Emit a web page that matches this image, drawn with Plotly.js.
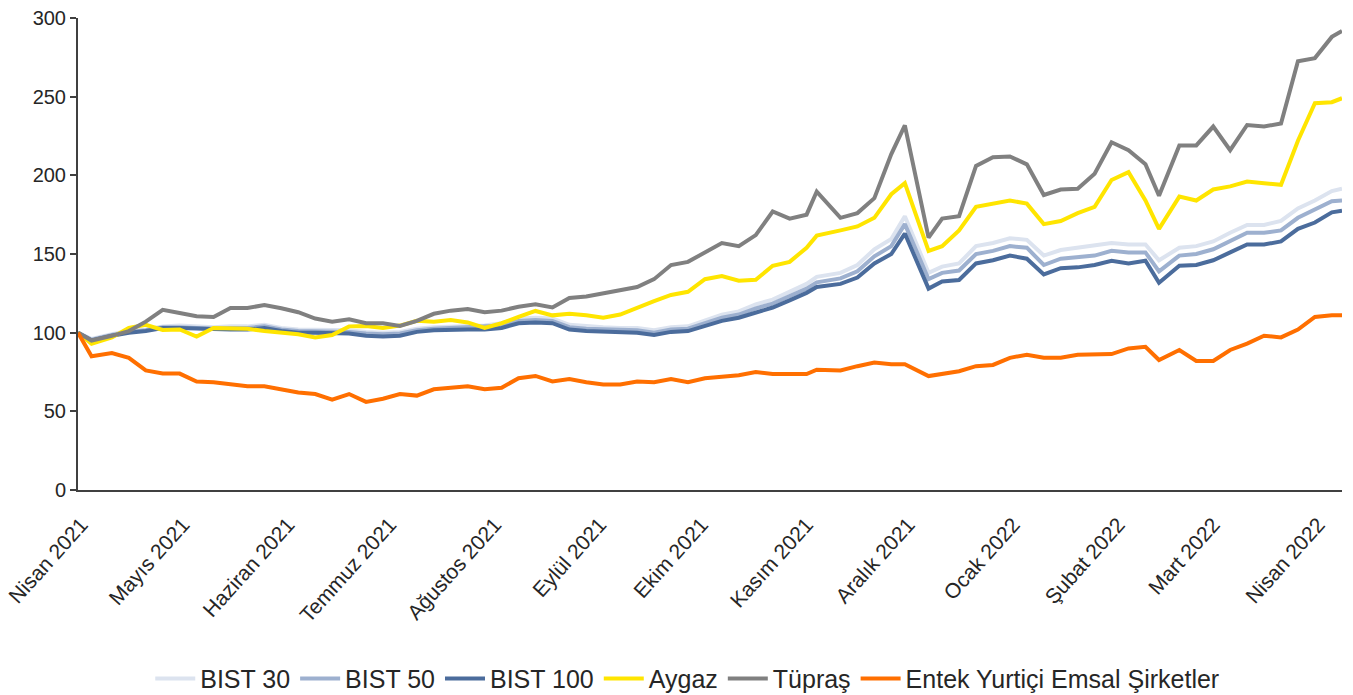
<!DOCTYPE html>
<html>
<head>
<meta charset="utf-8">
<script src="https://cdn.plot.ly/plotly-3.0.1.min.js"></script>
<style>
  html, body { margin: 0; padding: 0; background: #fff; }
  #plot { width: 1353px; height: 695px; }
</style>
</head>
<body>
<div id="plot"></div>
<script>
// dates (roughly every 5 days), values indexed to 100
const dates = [
  "2021-03-31","2021-04-04","2021-04-10","2021-04-15","2021-04-20","2021-04-25","2021-04-30","2021-05-05","2021-05-10","2021-05-15",
  "2021-05-20","2021-05-25","2021-05-30","2021-06-04","2021-06-09","2021-06-14","2021-06-19","2021-06-24","2021-06-29","2021-07-04",
  "2021-07-09","2021-07-14","2021-07-19","2021-07-24","2021-07-29","2021-08-03","2021-08-08","2021-08-13","2021-08-18","2021-08-23",
  "2021-08-28","2021-09-02","2021-09-07","2021-09-12","2021-09-17","2021-09-22","2021-09-27","2021-10-02","2021-10-07","2021-10-12",
  "2021-10-17","2021-10-22","2021-10-27","2021-11-01","2021-11-04","2021-11-11","2021-11-16","2021-11-21","2021-11-26","2021-11-30",
  "2021-12-07","2021-12-11","2021-12-16","2021-12-21","2021-12-26","2021-12-31","2022-01-05","2022-01-10","2022-01-15","2022-01-20",
  "2022-01-25","2022-01-30","2022-02-04","2022-02-09","2022-02-13","2022-02-19","2022-02-24","2022-03-01","2022-03-06","2022-03-11",
  "2022-03-16","2022-03-21","2022-03-26","2022-03-31","2022-04-05","2022-04-08"
];

const bist30 = [
  100,96,99,101,102,104,104.5,104,103.5,104,
  104,105,103,102,102,102,101.5,100.5,100,100.5,
  102.5,103.5,104,104,104.5,106,109,109.5,109,105,
  104,103.5,103,103,101.5,103.5,104,108,111.5,113.5,
  118,121,126,131,135.5,138,143,153,159.5,174,
  138,142,144,155,157,160,159,149,152.5,154,
  155,157,156,156,146,154,155,158,163.5,168.5,
  168.5,171,179,184,190,191.5
];

const bist50 = [
  100,95.5,98.5,100.5,101.5,103.5,103.5,103,102.5,103,
  103,104,102,101,101,101,100.5,99.5,99,99.5,
  101.5,102.5,103,103,103.5,104.5,107.5,108,107.5,103.5,
  102.5,102,101.5,101.5,100,102,102.5,106,109.5,111.5,
  115.5,118.5,123,128,132,134.5,139,148.5,155,169,
  134,138,139.5,150,152,155,154,143,147,148,
  149,152,151,151,139,149,150,153,158.5,163.5,
  163.5,165,173,178,183.5,184
];

const bist100 = [
  100,95,98,100,101,103,103,102.5,102,102,
  102,103,101,100,100,100,99.5,98,97.5,98,
  100.5,101.5,102,102,102,103,106,106.5,106,102,
  101,100.5,100,100,98.5,100.5,101,104,107.5,109.5,
  113,116,120.5,125.3,129,131,135,144,150,163,
  128,132.5,133.5,144,146,149,147,137,141,141.5,
  143,145.7,144,145.7,131.7,142.5,143,146,151,156,
  156,158,166,170,176.5,177.5
];

const aygaz = [
  100,93,97,103,105,101.7,102,97.5,103,102.5,
  102.5,101,100,99,97,98.5,104,104.2,103,104.5,
  107.5,107,108,106.5,103,106,110,113.8,111,112,
  111,109.5,111.5,116,120,124,126,134,136,133,
  133.6,142.5,145,154,161.7,165,167.5,173,188,195,
  152,155,165,180,182,184,182,169,171,176,
  180,197,202,184,166,186.5,184,191,193,196,
  195,194,222,245.8,246.5,249
];

const tupras = [
  100,95,98,101,107,114.5,112.5,110.5,110,115.7,
  115.7,117.5,115.5,113,109,107,108.5,106,106,104.3,
  107.5,112,114,115,113,114,116.5,118,116,122,
  123,125,126.6,129,134,143,145,151,157,155,
  162,177,172.5,175,189.7,173,176,185.5,213.5,231.8,
  160.4,172.5,174,206,211.5,212,207,187.5,191,191.5,
  201,221,216,207,187,219,219,231,216,232,
  231,233,272.5,274.5,288,291.8
];

const entek = [
  100,85,87,84,76,74,74,69,68.5,67,
  66,66,64,62,61,57.5,61,56,58,61,
  60,64,65,66,64,65,71,72.5,69,70.5,
  68.5,67,67,69,68.5,70.5,68.5,71,72,73,
  75,73.7,73.7,73.7,76.5,76,78.7,81,80,80,
  72.4,73.7,75.5,78.7,79.5,84,86,84,84,86,
  86,86.4,90,91,82.6,89,82,82,89,93,
  98,97,102,110,111,111
];

const monthTicks = [
  "2021-04-01","2021-05-01","2021-06-01","2021-07-01","2021-08-01","2021-09-01","2021-10-01",
  "2021-11-01","2021-12-01","2022-01-01","2022-02-01","2022-03-01","2022-04-01"
];
const monthLabels = [
  "Nisan 2021","Mayıs 2021","Haziran 2021","Temmuz 2021","Ağustos 2021","Eylül 2021","Ekim 2021",
  "Kasım 2021","Aralık 2021","Ocak 2022","Şubat 2022","Mart 2022","Nisan 2022"
];

function line(name, y, color) {
  return {
    x: dates,
    y: y,
    name: name,
    type: "scatter",
    mode: "lines",
    line: {color: color, width: 4}
  };
}

let data = [
  line("BIST 30", bist30, "#DCE3EF"),
  line("BIST 50", bist50, "#9DB0CF"),
  line("BIST 100", bist100, "#4B6C9C"),
  line("Aygaz", aygaz, "#FFE500"),
  line("Tüpraş", tupras, "#808080"),
  line("Entek Yurtiçi Emsal Şirketler", entek, "#FF6F00")
];

let layout = {
  width: 1353,
  height: 695,
  margin: {l: 78, r: 11, t: 18, b: 205, autoexpand: false},
  paper_bgcolor: "#fff",
  plot_bgcolor: "#fff",
  font: {family: "Liberation Sans, Arial, sans-serif", size: 19, color: "#262626"},
  showlegend: true,
  legend: {
    orientation: "h",
    x: 0.482, xanchor: "center",
    y: -0.40, yanchor: "middle",
    font: {size: 25, color: "#262626"},
    itemwidth: 40
  },
  xaxis: {
    type: "date",
    range: ["2021-03-31", "2022-04-08"],
    tickvals: monthTicks,
    ticktext: monthLabels,
    tickangle: -48,
    ticklabelstandoff: 12,
    automargin: false,
    showgrid: false,
    zeroline: false,
    showline: true,
    linecolor: "#404040",
    linewidth: 2,
    ticks: "",
    tickfont: {size: 21}
  },
  yaxis: {
    range: [0, 300],
    tickvals: [0, 50, 100, 150, 200, 250, 300],
    automargin: false,
    showgrid: false,
    zeroline: false,
    showline: true,
    linecolor: "#404040",
    linewidth: 2,
    ticks: "outside",
    ticklen: 6,
    tickwidth: 2,
    tickcolor: "#404040",
    tickfont: {size: 20}
  }
};

Plotly.newPlot("plot", data, layout, {displayModeBar: false});
</script>
</body>
</html>
